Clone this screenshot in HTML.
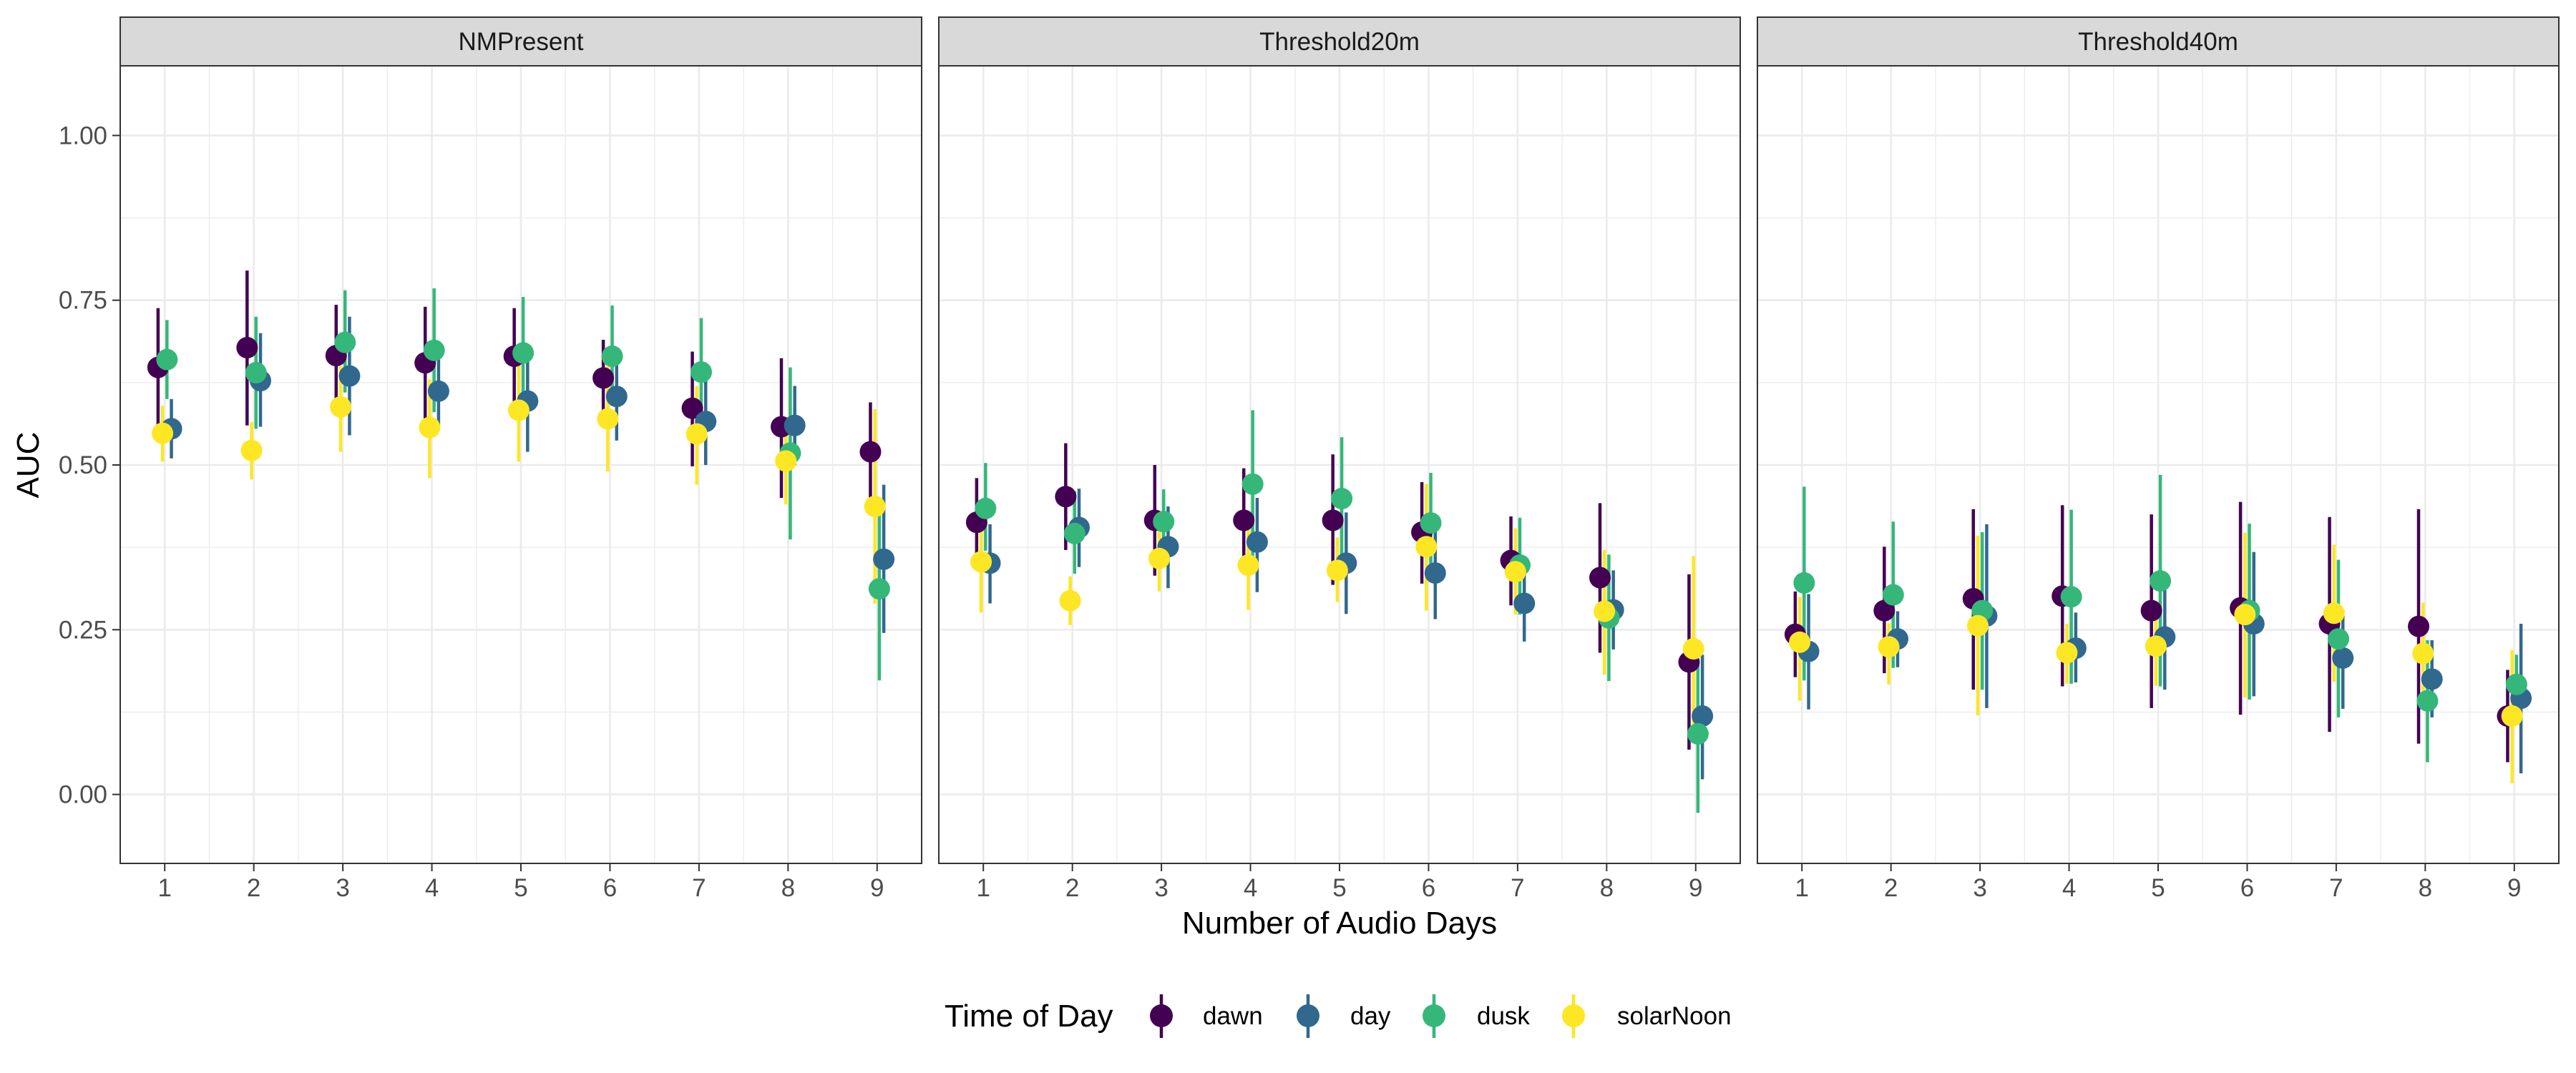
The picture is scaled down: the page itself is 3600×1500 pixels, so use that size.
<!DOCTYPE html>
<html><head><meta charset="utf-8"><style>
html,body{margin:0;padding:0;background:#fff;}
svg{display:block;font-family:"Liberation Sans",Arial,sans-serif;}
</style></head><body>
<svg id="chart" width="3600" height="1500" viewBox="0 0 3600 1500" xmlns="http://www.w3.org/2000/svg"></svg>
<script>
const panels = ["NMPresent","Threshold20m","Threshold40m"];
const days = [1,2,3,4,5,6,7,8,9];
const groups = ["dawn","day","dusk","solarNoon"];
const colors = ["#440154","#31688E","#35B779","#FDE725"];
const yTicks = [0,0.25,0.5,0.75,1.0];
const yTickLabels = ["0.00","0.25","0.50","0.75","1.00"];
// values [panel][group][day]
const dawnMean = [[0.648,0.678,0.666,0.655,0.665,0.632,0.586,0.558,0.520],[0.413,0.452,0.416,0.416,0.416,0.398,0.355,0.329,0.201],[0.243,0.279,0.297,0.301,0.279,0.283,0.259,0.255,0.119]];
const dawnLo = [[0.56,0.56,0.59,0.57,0.59,0.575,0.498,0.45,0.445],[0.35,0.371,0.332,0.336,0.318,0.32,0.287,0.215,0.068],[0.178,0.184,0.159,0.164,0.131,0.121,0.095,0.077,0.049]];
const dawnHi = [[0.738,0.795,0.743,0.74,0.738,0.69,0.672,0.662,0.595],[0.48,0.533,0.50,0.495,0.516,0.474,0.422,0.442,0.334],[0.308,0.376,0.433,0.439,0.425,0.444,0.421,0.433,0.189]];
const dayMean = [[0.555,0.628,0.635,0.612,0.597,0.604,0.566,0.560,0.357],[0.351,0.405,0.376,0.383,0.351,0.336,0.290,0.280,0.119],[0.217,0.236,0.271,0.222,0.239,0.259,0.207,0.175,0.146]];
const dayLo = [[0.51,0.558,0.545,0.56,0.52,0.537,0.50,0.50,0.245],[0.29,0.345,0.313,0.307,0.274,0.266,0.232,0.22,0.023],[0.129,0.193,0.131,0.17,0.159,0.149,0.13,0.117,0.032]];
const dayHi = [[0.60,0.70,0.725,0.66,0.675,0.67,0.633,0.62,0.47],[0.41,0.464,0.437,0.45,0.428,0.40,0.35,0.34,0.212],[0.304,0.278,0.41,0.276,0.31,0.368,0.28,0.234,0.259]];
const duskMean = [[0.660,0.640,0.686,0.674,0.670,0.665,0.641,0.518,0.312],[0.434,0.396,0.414,0.471,0.449,0.412,0.348,0.268,0.092],[0.321,0.303,0.279,0.300,0.324,0.279,0.236,0.142,0.167]];
const duskLo = [[0.60,0.555,0.61,0.58,0.585,0.59,0.56,0.387,0.173],[0.37,0.335,0.36,0.36,0.355,0.34,0.273,0.172,-0.028],[0.173,0.192,0.159,0.168,0.164,0.144,0.117,0.049,0.13]];
const duskHi = [[0.72,0.725,0.765,0.768,0.755,0.742,0.723,0.648,0.45],[0.503,0.46,0.463,0.583,0.542,0.488,0.42,0.364,0.2],[0.467,0.414,0.398,0.432,0.485,0.411,0.356,0.234,0.212]];
const noonMean = [[0.548,0.522,0.588,0.557,0.583,0.570,0.547,0.506,0.437],[0.353,0.294,0.358,0.348,0.340,0.376,0.338,0.278,0.221],[0.231,0.224,0.256,0.215,0.225,0.273,0.275,0.214,0.119]];
const noonLo = [[0.505,0.478,0.52,0.48,0.505,0.49,0.47,0.44,0.29],[0.276,0.257,0.308,0.28,0.292,0.279,0.273,0.182,0.10],[0.142,0.167,0.12,0.168,0.165,0.147,0.171,0.137,0.017]];
const noonHi = [[0.59,0.565,0.65,0.63,0.66,0.65,0.62,0.57,0.585],[0.43,0.331,0.43,0.41,0.39,0.471,0.404,0.371,0.362],[0.30,0.26,0.393,0.259,0.29,0.397,0.379,0.291,0.219]];

const means=[dawnMean,dayMean,duskMean,noonMean], los=[dawnLo,dayLo,duskLo,noonLo], his=[dawnHi,dayHi,duskHi,noonHi];
const dodge=[-0.075,0.075,0.025,-0.025];

const NS="http://www.w3.org/2000/svg";
const svg=document.getElementById('chart');
function mk(tag,attrs,parent){const e=document.createElementNS(NS,tag);for(const k in attrs)e.setAttribute(k,attrs[k]);(parent||svg).appendChild(e);return e;}
const panelLeft=[168,1312,2456], PW=1120, PT=92, PB=1207;
const yScale=v=>1110.6-v*921.2;
function xScale(p,v){return panelLeft[p]+(v-0.5)*(PW/9);}

panels.forEach((name,p)=>{
  const g=mk('g',{});
  
  
  const L=panelLeft[p];
  for(let v=-0.125;v<=1.125;v+=0.25){const y=yScale(v);if(y>PT&&y<PB){const l=mk('line',{x1:L,x2:L+PW,y1:y,y2:y,stroke:'#EBEBEB','stroke-width':1.3},g);}}
  for(let d=1.5;d<9;d++){const x=xScale(p,d);const l=mk('line',{x1:x,x2:x,y1:PT,y2:PB,stroke:'#EBEBEB','stroke-width':1.3},g);}
  yTicks.forEach(v=>{const y=yScale(v);const l=mk('line',{x1:L,x2:L+PW,y1:y,y2:y,stroke:'#EBEBEB','stroke-width':2.6},g);});
  days.forEach(d=>{const x=xScale(p,d);const l=mk('line',{x1:x,x2:x,y1:PT,y2:PB,stroke:'#EBEBEB','stroke-width':2.6},g);});
  groups.forEach((grp,gi)=>{days.forEach((d,di)=>{const x=xScale(p,d+dodge[gi]);
    const l=mk('line',{x1:x,x2:x,y1:yScale(los[gi][p][di]),y2:yScale(his[gi][p][di]),stroke:colors[gi],'stroke-width':4.5},g);
    
    });});
  groups.forEach((grp,gi)=>{days.forEach((d,di)=>{const x=xScale(p,d+dodge[gi]);
    const c=mk('circle',{cx:x,cy:yScale(means[gi][p][di]),r:15,fill:colors[gi]},g);
    
    });});
  const b=mk('rect',{x:L,y:PT,width:PW,height:PB-PT,fill:'none',stroke:'#333333','stroke-width':2},g);
  
  const s=mk('rect',{x:L,y:24,width:PW,height:PT-24,fill:'#D9D9D9',stroke:'#333333','stroke-width':2},g);
  
  const st=mk('text',{x:L+PW/2,y:70,'text-anchor':'middle','font-size':35,fill:'#1A1A1A'},g);st.textContent=name;
  
  days.forEach(d=>{const x=xScale(p,d);
    const t=mk('line',{x1:x,x2:x,y1:PB,y2:PB+11,stroke:'#333333','stroke-width':2},g);
    const tl=mk('text',{x:x,y:PB+46,'text-anchor':'middle','font-size':35,fill:'#4D4D4D'},g);tl.textContent=d;
    });
});
yTicks.forEach((v,i)=>{const y=yScale(v);
  const t=mk('line',{x1:157,x2:168,y1:y,y2:y,stroke:'#333333','stroke-width':2});
  const tl=mk('text',{x:150,y:y+12,'text-anchor':'end','font-size':35,fill:'#4D4D4D'});tl.textContent=yTickLabels[i];
  });
const yt=mk('text',{x:0,y:0,transform:'translate(54,650) rotate(-90)','text-anchor':'middle','font-size':44,fill:'#000'});yt.textContent='AUC';

const xt=mk('text',{x:1872,y:1305,'text-anchor':'middle','font-size':44,fill:'#000'});xt.textContent='Number of Audio Days';

const lg=mk('g',{});
const ltt=mk('text',{x:1320,y:1435,'font-size':44,fill:'#000'},lg);ltt.textContent='Time of Day';

const keyX=[1623,1828,2004,2199], labX=[1681,1887,2064,2260];
groups.forEach((grp,gi)=>{
  const e=mk('g',{},lg);
  mk('line',{x1:keyX[gi],x2:keyX[gi],y1:1390,y2:1451,stroke:colors[gi],'stroke-width':4.5},e);
  mk('circle',{cx:keyX[gi],cy:1420,r:16,fill:colors[gi]},e);
  const t=mk('text',{x:labX[gi],y:1432,'font-size':35,fill:'#000'},e);t.textContent=grp;
  
});
</script>
</body></html>
